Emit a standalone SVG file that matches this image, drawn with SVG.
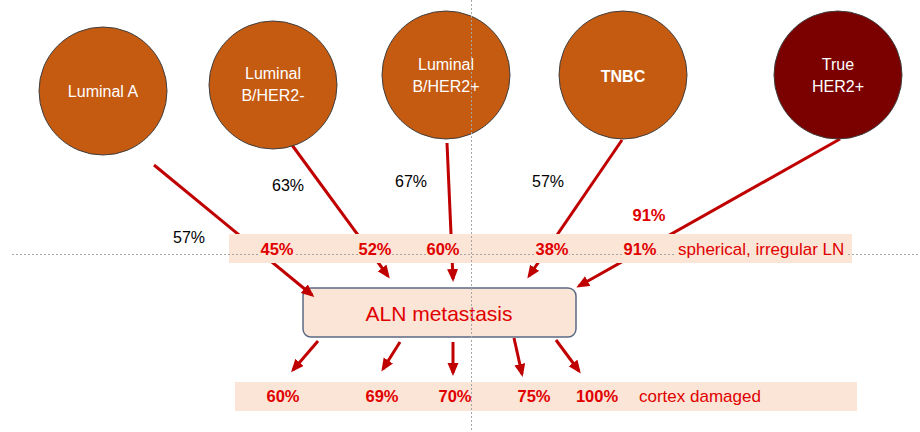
<svg xmlns="http://www.w3.org/2000/svg" width="920" height="432" viewBox="0 0 920 432">
<style>
.sub{fill:#C55A11;stroke:#3F3F3F;stroke-width:1}
.dark{fill:#7B0000;stroke:#3F3F3F;stroke-width:1}
.ct{font-family:"Liberation Sans",Arial,sans-serif;font-size:16px;fill:#FFFFFF;text-anchor:middle}
.band{fill:#FBE5D6}
.pr{font-family:"Liberation Sans",Arial,sans-serif;font-size:16.5px;font-weight:bold;fill:#E00000;text-anchor:middle}
.desc{font-family:"Liberation Sans",Arial,sans-serif;font-size:17px;fill:#E00000}
.pk{font-family:"Liberation Sans",Arial,sans-serif;font-size:16px;fill:#000000;text-anchor:middle}
.arr{stroke:#C00000;stroke-width:3;fill:none;marker-end:url(#ah)}
.dot{stroke:#A6A6A6;stroke-width:1;stroke-dasharray:2 2;fill:none}
.bg{fill:#FBE5D6}
</style>
<defs>
<marker id="ah" markerUnits="userSpaceOnUse" markerWidth="14" markerHeight="12" refX="10" refY="5.5" orient="auto">
<path d="M0,0 L13,5.5 L0,11 z" fill="#C00000"/>
</marker>
</defs>
<g id="aln-metastasis">
<rect x="303" y="288" width="273" height="49" rx="8" fill="#FBE5D6" stroke="#5B6A85" stroke-width="1.5"/>
<text x="439" y="321" font-family="Liberation Sans, Arial, sans-serif" font-size="21" fill="#E00000" text-anchor="middle">ALN metastasis</text>
</g>
<g id="connectors">
<line class="arr" x1="154" y1="165" x2="312" y2="295"/>
<line class="arr" x1="292" y1="145" x2="388" y2="276"/>
<line class="arr" x1="447" y1="143" x2="453" y2="279"/>
<line class="arr" x1="622" y1="140" x2="529" y2="276"/>
<line class="arr" x1="840" y1="139" x2="579" y2="286"/>
<line class="arr" x1="318" y1="341" x2="293" y2="370"/>
<line class="arr" x1="400" y1="342" x2="383" y2="369"/>
<line class="arr" x1="453" y1="342" x2="453" y2="373"/>
<line class="arr" x1="514" y1="338" x2="522" y2="374"/>
<line class="arr" x1="556" y1="340" x2="579" y2="371"/>
</g>
<g id="luminal-a">
<circle class="sub" cx="103" cy="91" r="64"/>
<text class="ct" x="103" y="97">Luminal A</text>
</g>
<g id="luminal-b-her2-neg">
<circle class="sub" cx="273" cy="85" r="64"/>
<text class="ct" x="273" y="79">Luminal</text>
<text class="ct" x="273" y="101">B/HER2-</text>
</g>
<g id="luminal-b-her2-pos">
<circle class="sub" cx="446" cy="75" r="64"/>
<text class="ct" x="446" y="70">Luminal</text>
<text class="ct" x="446" y="92">B/HER2+</text>
</g>
<g id="tnbc">
<circle class="sub" cx="623" cy="75" r="64"/>
<text class="ct" x="623" y="82" font-weight="bold">TNBC</text>
</g>
<g id="true-her2-pos">
<circle class="dark" cx="838" cy="75" r="64"/>
<text class="ct" x="838" y="70">True</text>
<text class="ct" x="838" y="92">HER2+</text>
</g>
<g id="bands">
<rect class="band" x="229" y="234" width="623" height="29"/>
<rect class="band" x="235" y="382" width="622" height="29"/>
</g>
<g id="guides">
<line class="dot" x1="12" y1="254.5" x2="920" y2="254.5"/>
<line class="dot" x1="471.5" y1="0" x2="471.5" y2="432"/>
</g>
<g id="spherical-labels">
<rect class="bg" x="260" y="241" width="34" height="16"/>
<rect class="bg" x="358" y="241" width="34" height="16"/>
<rect class="bg" x="426" y="241" width="34" height="16"/>
<rect class="bg" x="535" y="241" width="34" height="16"/>
<rect class="bg" x="623" y="241" width="34" height="16"/>
<rect class="bg" x="676" y="241" width="172" height="19"/>
<text class="pr" x="277" y="255">45%</text>
<text class="pr" x="375" y="255">52%</text>
<text class="pr" x="443" y="255">60%</text>
<text class="pr" x="552" y="255">38%</text>
<text class="pr" x="640" y="255">91%</text>
<text class="desc" x="678" y="255">spherical, irregular LN</text>
</g>
<g id="cortex-labels">
<text class="pr" x="283" y="402">60%</text>
<text class="pr" x="382" y="402">69%</text>
<text class="pr" x="455" y="402">70%</text>
<text class="pr" x="534" y="402">75%</text>
<text class="pr" x="597" y="402">100%</text>
<text class="desc" x="639" y="402">cortex damaged</text>
</g>
<g id="edge-labels">
<text class="pk" x="189" y="243">57%</text>
<text class="pk" x="288" y="191">63%</text>
<text class="pk" x="411" y="187">67%</text>
<text class="pk" x="548" y="187">57%</text>
<text class="pr" x="649" y="221">91%</text>
</g>
</svg>
